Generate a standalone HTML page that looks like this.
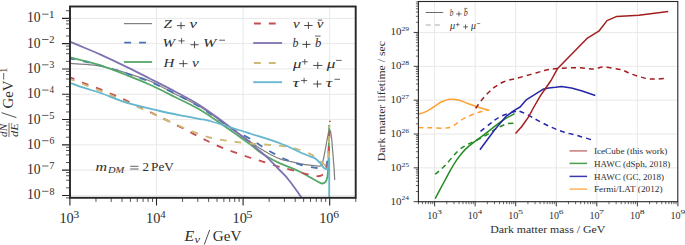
<!DOCTYPE html><html><head><meta charset="utf-8"><style>
html,body{margin:0;padding:0;background:#fff;width:685px;height:245px;overflow:hidden}
svg{display:block}
text{font-family:"Liberation Serif",serif;fill:#2e2e2e}
.i{font-style:italic}
</style></head><body>
<svg width="685" height="245" viewBox="0 0 685 245">
<path d="M156.50,6.50 V197.80 M243.10,6.50 V197.80 M329.70,6.50 V197.80 M70.00,18.35 H355.70 M70.00,43.65 H355.70 M70.00,68.95 H355.70 M70.00,94.25 H355.70 M70.00,119.55 H355.70 M70.00,144.85 H355.70 M70.00,170.15 H355.70 M70.00,195.45 H355.70" stroke="#e8e8e8" stroke-width="1" fill="none"/>
<defs><clipPath id="cl"><rect x="70.00" y="6.50" width="285.70" height="191.30"/></clipPath>
<clipPath id="cr"><rect x="418.4" y="1.5" width="259.4" height="200.2"/></clipPath></defs>
<g clip-path="url(#cl)">
<path d="M70.00,63.40 C72.50,63.55 80.00,63.87 85.00,64.30 C90.00,64.73 95.00,65.12 100.00,66.00 C105.00,66.88 110.33,68.35 115.00,69.60 C119.67,70.85 122.17,71.60 128.00,73.50 C133.83,75.40 142.17,77.58 150.00,81.00 C157.83,84.42 166.67,89.70 175.00,94.00 C183.33,98.30 191.67,101.80 200.00,106.80 C208.33,111.80 216.67,118.20 225.00,124.00 C233.33,129.80 244.13,137.52 250.00,141.60 C255.87,145.68 256.80,146.35 260.20,148.50 C263.60,150.65 267.00,152.73 270.40,154.50 C273.80,156.27 277.20,157.92 280.60,159.10 C284.00,160.28 287.57,160.85 290.80,161.60 C294.03,162.35 296.80,163.00 300.00,163.60 C303.20,164.20 306.70,164.77 310.00,165.20 C313.30,165.63 317.77,166.28 319.80,166.20 C321.83,166.12 321.80,164.95 322.20,164.70 L323.70,157.80 L325.20,150.00 L327.20,139.00 L328.80,131.00 L329.60,129.50 L330.50,131.00 L331.80,140.00 L333.00,155.00 L334.20,170.00 L334.70,180.00" stroke="#808080" stroke-width="1.25" fill="none" stroke-linejoin="round"/>
<path d="M70.00,58.60 C72.50,59.08 80.00,60.33 85.00,61.50 C90.00,62.67 93.33,63.72 100.00,65.60 C106.67,67.48 116.67,70.10 125.00,72.80 C133.33,75.50 141.67,78.35 150.00,81.80 C158.33,85.25 166.67,89.30 175.00,93.50 C183.33,97.70 194.00,103.52 200.00,107.00 C206.00,110.48 207.12,111.73 211.00,114.40 C214.88,117.07 219.02,120.15 223.30,123.00 C227.58,125.85 231.92,128.70 236.70,131.50 C241.48,134.30 247.92,137.38 252.00,139.80 C256.08,142.22 257.62,143.73 261.20,146.00 C264.78,148.27 269.25,151.08 273.50,153.40 C277.75,155.72 282.28,158.03 286.70,159.90 C291.12,161.77 295.63,163.35 300.00,164.60 C304.37,165.85 309.60,166.82 312.90,167.40 C316.20,167.98 318.12,168.08 319.80,168.10 C321.48,168.12 322.47,167.60 323.00,167.50 L326.30,166.50 L328.50,155.00 L329.20,127.00" stroke="#4c72b0" stroke-width="1.80" fill="none" stroke-linejoin="round" stroke-dasharray="6.9 8.0" stroke-dashoffset="2.00"/>
<path d="M70.00,57.40 C72.50,58.00 80.00,59.70 85.00,61.00 C90.00,62.30 93.33,62.95 100.00,65.20 C106.67,67.45 116.67,71.25 125.00,74.50 C133.33,77.75 141.67,80.95 150.00,84.70 C158.33,88.45 166.67,92.82 175.00,97.00 C183.33,101.18 191.67,104.88 200.00,109.80 C208.33,114.72 216.67,120.77 225.00,126.50 C233.33,132.23 244.13,139.90 250.00,144.20 C255.87,148.50 256.80,149.92 260.20,152.30 C263.60,154.68 267.00,156.62 270.40,158.50 C273.80,160.38 277.20,162.07 280.60,163.60 C284.00,165.13 287.57,166.35 290.80,167.70 C294.03,169.05 296.80,170.10 300.00,171.70 C303.20,173.30 307.17,175.70 310.00,177.30 C312.83,178.90 315.00,180.27 317.00,181.30 C319.00,182.33 320.55,183.45 322.00,183.50 C323.45,183.55 324.80,182.68 325.70,181.60 C326.60,180.52 327.12,177.77 327.40,177.00 L328.30,168.00 L328.80,150.00 L329.20,125.00" stroke="#55a868" stroke-width="1.80" fill="none" stroke-linejoin="round"/>
<path d="M70.00,77.30 C72.50,78.33 79.90,81.48 85.00,83.50 C90.10,85.52 95.82,87.50 100.60,89.40 C105.38,91.30 109.48,93.07 113.70,94.90 C117.92,96.73 119.85,97.55 125.90,100.40 C131.95,103.25 140.68,107.43 150.00,112.00 C159.32,116.57 172.47,123.08 181.80,127.80 C191.13,132.52 199.50,137.07 206.00,140.30 C212.50,143.53 215.88,145.15 220.80,147.20 C225.72,149.25 230.47,150.80 235.50,152.60 C240.53,154.40 246.37,156.47 251.00,158.00 C255.63,159.53 258.87,160.40 263.30,161.80 C267.73,163.20 272.85,165.02 277.60,166.40 C282.35,167.78 286.90,168.82 291.80,170.10 C296.70,171.38 302.68,173.08 307.00,174.10 C311.32,175.12 315.28,176.00 317.70,176.20 C320.12,176.40 320.42,175.75 321.50,175.30 C322.58,174.85 323.75,173.80 324.20,173.50 L326.50,170.00 L328.30,160.00 L329.30,140.00 L329.60,125.00" stroke="#c44e52" stroke-width="1.80" fill="none" stroke-linejoin="round" stroke-dasharray="6.9 8.0" stroke-dashoffset="2.00"/>
<path d="M70.00,41.70 C72.50,42.75 80.00,45.88 85.00,48.00 C90.00,50.12 92.83,51.13 100.00,54.40 C107.17,57.67 119.67,63.55 128.00,67.60 C136.33,71.65 142.17,74.72 150.00,78.70 C157.83,82.68 166.67,87.05 175.00,91.50 C183.33,95.95 192.17,100.48 200.00,105.40 C207.83,110.32 214.50,115.47 222.00,121.00 C229.50,126.53 240.33,135.07 245.00,138.60 C249.67,142.13 248.00,140.53 250.00,142.20 C252.00,143.87 254.00,145.95 257.00,148.60 C260.00,151.25 264.17,154.45 268.00,158.10 C271.83,161.75 277.00,167.42 280.00,170.50 C283.00,173.58 284.00,174.32 286.00,176.60 C288.00,178.88 290.00,181.55 292.00,184.20 C294.00,186.85 296.25,190.03 298.00,192.50 C299.75,194.97 301.75,197.92 302.50,199.00" stroke="#8172b2" stroke-width="1.80" fill="none" stroke-linejoin="round"/>
<path d="M70.00,79.00 C72.50,79.98 79.90,82.93 85.00,84.90 C90.10,86.87 95.82,88.88 100.60,90.80 C105.38,92.72 108.80,94.28 113.70,96.40 C118.60,98.52 123.95,100.82 130.00,103.50 C136.05,106.18 143.33,109.45 150.00,112.50 C156.67,115.55 163.33,118.80 170.00,121.80 C176.67,124.80 183.78,128.00 190.00,130.50 C196.22,133.00 201.55,135.17 207.30,136.80 C213.05,138.43 219.18,139.38 224.50,140.30 C229.82,141.22 233.93,141.68 239.20,142.30 C244.47,142.92 251.07,143.58 256.10,144.00 C261.13,144.42 264.97,144.43 269.40,144.80 C273.83,145.17 278.10,145.50 282.70,146.20 C287.30,146.90 292.45,147.72 297.00,149.00 C301.55,150.28 307.02,152.58 310.00,153.90 C312.98,155.22 313.57,155.97 314.90,156.90 C316.23,157.83 316.85,158.57 318.00,159.50 C319.15,160.43 320.80,161.67 321.80,162.50 C322.80,163.33 323.35,164.05 324.00,164.50 C324.65,164.95 325.42,165.08 325.70,165.20 L327.20,163.50 L328.10,158.00 L329.00,140.00 L329.40,126.00" stroke="#ccb974" stroke-width="1.80" fill="none" stroke-linejoin="round" stroke-dasharray="6.9 8.0" stroke-dashoffset="2.00"/>
<path d="M70.00,82.80 C72.50,83.70 79.90,86.50 85.00,88.20 C90.10,89.90 93.43,90.50 100.60,93.00 C107.77,95.50 118.10,100.20 128.00,103.20 C137.90,106.20 150.50,108.83 160.00,111.00 C169.50,113.17 178.33,114.85 185.00,116.20 C191.67,117.55 195.83,118.30 200.00,119.10 C204.17,119.90 201.67,118.60 210.00,121.00 C218.33,123.40 238.23,129.75 250.00,133.50 C261.77,137.25 272.27,140.38 280.60,143.50 C288.93,146.62 295.10,150.05 300.00,152.20 C304.90,154.35 307.52,155.38 310.00,156.40 C312.48,157.42 313.27,157.25 314.90,158.30 C316.53,159.35 318.50,161.30 319.80,162.70 C321.10,164.10 321.88,165.72 322.70,166.70 C323.52,167.68 324.03,168.20 324.70,168.60 C325.37,169.00 326.18,169.18 326.70,169.10 C327.22,169.02 327.62,168.27 327.80,168.10 L328.70,163.00 L329.20,157.80" stroke="#64b5cd" stroke-width="1.80" fill="none" stroke-linejoin="round"/>
<path d="M329.2,157.8 L329.2,199" stroke="#64b5cd" stroke-width="1.80" fill="none"/>
<path d="M329.0,121.4 L330.8,121.4" stroke="#c44e52" stroke-width="1.3" fill="none"/>
</g>
<rect x="70.00" y="6.50" width="285.70" height="191.30" fill="none" stroke="#262626" stroke-width="1.9"/>
<path d="M69.90,197.80 V205.40 M156.50,197.80 V205.40 M243.10,197.80 V205.40 M329.70,197.80 V205.40 M70.00,18.35 H62.00 M70.00,43.65 H62.00 M70.00,68.95 H62.00 M70.00,94.25 H62.00 M70.00,119.55 H62.00 M70.00,144.85 H62.00 M70.00,170.15 H62.00 M70.00,195.45 H62.00" stroke="#262626" stroke-width="1.1" fill="none"/>
<path d="M95.97,197.80 V201.90 M111.22,197.80 V201.90 M122.04,197.80 V201.90 M130.43,197.80 V201.90 M137.29,197.80 V201.90 M143.09,197.80 V201.90 M148.11,197.80 V201.90 M152.54,197.80 V201.90 M182.57,197.80 V201.90 M197.82,197.80 V201.90 M208.64,197.80 V201.90 M217.03,197.80 V201.90 M223.89,197.80 V201.90 M229.69,197.80 V201.90 M234.71,197.80 V201.90 M239.14,197.80 V201.90 M269.17,197.80 V201.90 M284.42,197.80 V201.90 M295.24,197.80 V201.90 M303.63,197.80 V201.90 M310.49,197.80 V201.90 M316.29,197.80 V201.90 M321.31,197.80 V201.90 M325.74,197.80 V201.90 M355.77,197.80 V201.90 M70.00,197.90 H66.00 M70.00,187.83 H66.00 M70.00,180.22 H66.00 M70.00,175.76 H66.00 M70.00,172.60 H66.00 M70.00,162.53 H66.00 M70.00,154.92 H66.00 M70.00,150.46 H66.00 M70.00,147.30 H66.00 M70.00,137.23 H66.00 M70.00,129.62 H66.00 M70.00,125.16 H66.00 M70.00,122.00 H66.00 M70.00,111.93 H66.00 M70.00,104.32 H66.00 M70.00,99.86 H66.00 M70.00,96.70 H66.00 M70.00,86.63 H66.00 M70.00,79.02 H66.00 M70.00,74.56 H66.00 M70.00,71.40 H66.00 M70.00,61.33 H66.00 M70.00,53.72 H66.00 M70.00,49.26 H66.00 M70.00,46.10 H66.00 M70.00,36.03 H66.00 M70.00,28.42 H66.00 M70.00,23.96 H66.00 M70.00,20.80 H66.00 M70.00,10.73 H66.00" stroke="#262626" stroke-width="0.8" fill="none"/>
<text transform="translate(26.94,22.35) scale(0.9510,1)" font-size="14.30">10</text>
<path d="M42.10,14.20 L48.50,14.20" stroke="#2e2e2e" stroke-width="0.75"/>
<text transform="translate(48.79,17.50) scale(1.2586,1)" font-size="9.40">1</text>
<text transform="translate(26.94,47.65) scale(0.9510,1)" font-size="14.30">10</text>
<path d="M42.10,39.50 L48.50,39.50" stroke="#2e2e2e" stroke-width="0.75"/>
<text transform="translate(49.33,42.80) scale(1.1170,1)" font-size="9.40">2</text>
<text transform="translate(26.94,72.95) scale(0.9510,1)" font-size="14.30">10</text>
<path d="M42.10,64.80 L48.50,64.80" stroke="#2e2e2e" stroke-width="0.75"/>
<text transform="translate(49.34,68.10) scale(1.0766,1)" font-size="9.40">3</text>
<text transform="translate(26.94,98.25) scale(0.9510,1)" font-size="14.30">10</text>
<path d="M42.10,90.10 L48.50,90.10" stroke="#2e2e2e" stroke-width="0.75"/>
<text transform="translate(49.62,93.40) scale(0.9609,1)" font-size="9.40">4</text>
<text transform="translate(26.94,123.55) scale(0.9510,1)" font-size="14.30">10</text>
<path d="M42.10,115.40 L48.50,115.40" stroke="#2e2e2e" stroke-width="0.75"/>
<text transform="translate(49.17,118.70) scale(1.1170,1)" font-size="9.40">5</text>
<text transform="translate(26.94,148.85) scale(0.9510,1)" font-size="14.30">10</text>
<path d="M42.10,140.70 L48.50,140.70" stroke="#2e2e2e" stroke-width="0.75"/>
<text transform="translate(49.41,144.00) scale(1.0391,1)" font-size="9.40">6</text>
<text transform="translate(26.94,174.15) scale(0.9510,1)" font-size="14.30">10</text>
<path d="M42.10,166.00 L48.50,166.00" stroke="#2e2e2e" stroke-width="0.75"/>
<text transform="translate(49.13,169.30) scale(1.1032,1)" font-size="9.40">7</text>
<text transform="translate(26.94,199.45) scale(0.9510,1)" font-size="14.30">10</text>
<path d="M42.10,191.30 L48.50,191.30" stroke="#2e2e2e" stroke-width="0.75"/>
<text transform="translate(49.40,194.60) scale(1.0638,1)" font-size="9.40">8</text>
<text transform="translate(59.39,222.60) scale(0.9990,1)" font-size="14.30">10</text>
<text transform="translate(73.26,217.50) scale(1.2817,1)" font-size="9.40">3</text>
<text transform="translate(145.99,222.60) scale(0.9990,1)" font-size="14.30">10</text>
<text transform="translate(160.18,217.50) scale(1.1439,1)" font-size="9.40">4</text>
<text transform="translate(232.59,222.60) scale(0.9990,1)" font-size="14.30">10</text>
<text transform="translate(246.25,217.50) scale(1.3298,1)" font-size="9.40">5</text>
<text transform="translate(319.19,222.60) scale(0.9990,1)" font-size="14.30">10</text>
<text transform="translate(333.13,217.50) scale(1.2370,1)" font-size="9.40">6</text>
<text transform="translate(184.56,241.00) scale(1.1019,1)" font-size="14.40" class="i">E</text>
<text transform="translate(194.51,243.10) scale(1.1847,1)" font-size="10.60" class="i">ν</text>
<path d="M204.30,244.50 L209.70,229.90" stroke="#2e2e2e" stroke-width="0.85"/>
<text transform="translate(212.79,241.00) scale(1.0521,1)" font-size="14.40">GeV</text>
<text transform="translate(7.30,136.60) rotate(-90) translate(-0.33,0) scale(1.1603,1)" font-size="9.60" class="i">dN</text>
<path d="M9.00,122.90 L9.00,137.10" stroke="#2e2e2e" stroke-width="0.70"/>
<text transform="translate(18.20,136.60) rotate(-90) translate(-0.37,0) scale(1.2911,1)" font-size="9.60" class="i">dE</text>
<path d="M16.40,117.60 L1.60,112.70" stroke="#2e2e2e" stroke-width="0.85"/>
<text transform="translate(13.20,108.00) rotate(-90) translate(-0.60,0) scale(1.0332,1)" font-size="14.40">GeV</text>
<path d="M3.70,79.60 L3.70,73.00" stroke="#2e2e2e" stroke-width="0.75"/>
<text transform="translate(6.80,72.00) rotate(-90) translate(-0.86,0) scale(1.0788,1)" font-size="9.40">1</text>
<text transform="translate(95.44,170.60) scale(1.3307,1)" font-size="12.00" class="i">m</text>
<text transform="translate(107.90,173.00) scale(1.3287,1)" font-size="7.90" class="i">DM</text>
<path d="M130.20,166.30 L138.50,166.30" stroke="#2e2e2e" stroke-width="0.75"/>
<path d="M130.20,169.00 L138.50,169.00" stroke="#2e2e2e" stroke-width="0.75"/>
<text transform="translate(142.51,170.60) scale(1.0833,1)" font-size="12.00">2</text>
<text transform="translate(151.10,170.50) scale(1.1062,1)" font-size="12.00">PeV</text>
<path d="M123.90,23.60 H152.10" stroke="#808080" stroke-width="1.25" fill="none"/>
<path d="M124.20,42.60 H152.60" stroke="#4c72b0" stroke-width="1.80" fill="none" stroke-dasharray="6.9 8.0"/>
<path d="M123.90,62.00 H152.10" stroke="#55a868" stroke-width="1.80" fill="none"/>
<path d="M253.90,23.50 H282.30" stroke="#c44e52" stroke-width="1.80" fill="none" stroke-dasharray="6.9 8.0"/>
<path d="M253.20,43.00 H282.10" stroke="#8172b2" stroke-width="1.80" fill="none"/>
<path d="M253.90,63.00 H282.30" stroke="#ccb974" stroke-width="1.80" fill="none" stroke-dasharray="6.9 8.0"/>
<path d="M253.20,82.20 H282.10" stroke="#64b5cd" stroke-width="1.80" fill="none"/>
<text transform="translate(163.55,27.90) scale(1.1429,1)" font-size="13.40" class="i">Z</text>
<path d="M176.90,25.65 H185.10 M181.00,22.15 V29.15" stroke="#2e2e2e" stroke-width="0.85" fill="none"/>
<text transform="translate(189.55,27.90) scale(1.2669,1)" font-size="13.40" class="i">ν</text>
<text transform="translate(162.42,47.30) scale(1.1216,1)" font-size="13.40" class="i">W</text>
<path d="M178.40,40.90 H184.70 M181.55,38.10 V43.70" stroke="#2e2e2e" stroke-width="0.75" fill="none"/>
<path d="M190.50,44.75 H198.60 M194.55,41.25 V48.25" stroke="#2e2e2e" stroke-width="0.85" fill="none"/>
<text transform="translate(202.96,47.30) scale(1.1923,1)" font-size="13.40" class="i">W</text>
<path d="M219.20,40.20 L225.00,40.20" stroke="#2e2e2e" stroke-width="0.75"/>
<text transform="translate(163.55,66.50) scale(1.1170,1)" font-size="13.40" class="i">H</text>
<path d="M179.10,63.65 H187.50 M183.30,60.15 V67.15" stroke="#2e2e2e" stroke-width="0.85" fill="none"/>
<text transform="translate(192.07,66.50) scale(1.1454,1)" font-size="13.40" class="i">ν</text>
<text transform="translate(292.97,27.90) scale(1.1281,1)" font-size="13.40" class="i">ν</text>
<path d="M304.20,25.50 H312.60 M308.40,22.00 V29.00" stroke="#2e2e2e" stroke-width="0.85" fill="none"/>
<text transform="translate(316.67,27.90) scale(1.1281,1)" font-size="13.40" class="i">ν</text>
<path d="M317.80,20.10 L322.20,20.10" stroke="#2e2e2e" stroke-width="0.75"/>
<text transform="translate(292.58,47.30) scale(0.8921,1)" font-size="13.40" class="i">b</text>
<path d="M302.40,44.45 H310.50 M306.45,40.95 V47.95" stroke="#2e2e2e" stroke-width="0.85" fill="none"/>
<text transform="translate(314.96,47.30) scale(0.9436,1)" font-size="13.40" class="i">b</text>
<path d="M315.00,36.10 L320.60,36.10" stroke="#2e2e2e" stroke-width="0.75"/>
<text transform="translate(293.00,67.60) scale(1.2544,1)" font-size="13.40" class="i">μ</text>
<path d="M301.80,61.75 H307.80 M304.80,58.95 V64.55" stroke="#2e2e2e" stroke-width="0.75" fill="none"/>
<path d="M313.20,65.45 H322.40 M317.80,61.95 V68.95" stroke="#2e2e2e" stroke-width="0.85" fill="none"/>
<text transform="translate(326.80,67.60) scale(1.2861,1)" font-size="13.40" class="i">μ</text>
<path d="M336.00,60.40 L341.70,60.40" stroke="#2e2e2e" stroke-width="0.75"/>
<text transform="translate(292.62,87.00) scale(1.4320,1)" font-size="13.40" class="i">τ</text>
<path d="M301.00,80.55 H307.20 M304.10,77.75 V83.35" stroke="#2e2e2e" stroke-width="0.75" fill="none"/>
<path d="M313.20,84.00 H321.60 M317.40,80.50 V87.50" stroke="#2e2e2e" stroke-width="0.85" fill="none"/>
<text transform="translate(325.74,87.00) scale(1.3514,1)" font-size="13.40" class="i">τ</text>
<path d="M334.50,79.30 L340.00,79.30" stroke="#2e2e2e" stroke-width="0.75"/>
<path d="M434.60,1.50 V201.70 M475.15,1.50 V201.70 M515.70,1.50 V201.70 M556.25,1.50 V201.70 M596.80,1.50 V201.70 M637.35,1.50 V201.70 M418.40,167.85 H677.80 M418.40,134.00 H677.80 M418.40,100.15 H677.80 M418.40,66.30 H677.80 M418.40,32.45 H677.80" stroke="#e8e8e8" stroke-width="1" fill="none"/>
<g clip-path="url(#cr)">
<path d="M418.40,113.90 C419.37,113.65 421.67,113.55 424.20,112.40 C426.73,111.25 430.75,108.73 433.60,107.00 C436.45,105.27 438.60,103.28 441.30,102.00 C444.00,100.72 446.95,99.63 449.80,99.30 C452.65,98.97 455.53,99.35 458.40,100.00 C461.27,100.65 463.93,102.08 467.00,103.20 C470.07,104.32 473.07,105.47 476.80,106.70 C480.53,107.93 487.30,109.95 489.40,110.60" stroke="#ffa030" stroke-width="1.50" fill="none" stroke-linejoin="round"/>
<path d="M418.40,127.50 C420.33,127.55 425.37,127.72 430.00,127.80 C434.63,127.88 442.28,128.38 446.20,128.00 C450.12,127.62 450.45,127.13 453.50,125.50 C456.55,123.87 460.62,120.28 464.50,118.20 C468.38,116.12 472.82,114.43 476.80,113.00 C480.78,111.57 486.47,110.17 488.40,109.60" stroke="#ffa030" stroke-width="1.50" fill="none" stroke-linejoin="round" stroke-dasharray="5 4"/>
<path d="M435.20,198.60 C436.72,195.75 441.80,186.17 444.30,181.50 C446.80,176.83 448.18,174.12 450.20,170.60 C452.22,167.08 454.35,163.43 456.40,160.40 C458.45,157.37 460.57,154.65 462.50,152.40 C464.43,150.15 465.58,149.00 468.00,146.90 C470.42,144.80 474.03,142.05 477.00,139.80 C479.97,137.55 482.70,135.77 485.80,133.40 C488.90,131.03 492.33,128.05 495.60,125.60 C498.87,123.15 502.23,120.70 505.40,118.70 C508.57,116.70 513.07,114.45 514.60,113.60" stroke="#228b22" stroke-width="1.50" fill="none" stroke-linejoin="round"/>
<path d="M435.20,174.30 C436.88,172.78 441.58,169.02 445.30,165.20 C449.02,161.38 454.18,154.65 457.50,151.40 C460.82,148.15 462.90,147.15 465.20,145.70 C467.50,144.25 467.90,144.40 471.30,142.70 C474.70,141.00 481.40,137.87 485.60,135.50 C489.80,133.13 492.98,130.43 496.50,128.50 C500.02,126.57 503.58,124.77 506.70,123.90 C509.82,123.03 513.78,123.40 515.20,123.30" stroke="#228b22" stroke-width="1.50" fill="none" stroke-linejoin="round" stroke-dasharray="5 4"/>
<path d="M479.90,149.80 L494.50,130.00 L505.70,116.70 L513.90,110.60 L520.10,107.00 L526.60,99.60 L534.60,94.60 L542.90,89.30 L548.60,88.00 L555.70,87.30 L561.40,86.40 L571.40,88.00 L581.40,90.80 L595.30,95.50" stroke="#2626a8" stroke-width="1.50" fill="none" stroke-linejoin="round"/>
<path d="M480.50,131.40 C482.12,130.12 487.53,125.80 490.20,123.70 C492.87,121.60 494.08,120.30 496.50,118.80 C498.92,117.30 501.63,115.90 504.70,114.70 C507.77,113.50 512.48,112.18 514.90,111.60 C517.32,111.02 516.95,110.60 519.20,111.20 C521.45,111.80 525.33,113.67 528.40,115.20 C531.47,116.73 534.00,118.50 537.60,120.40 C541.20,122.30 545.78,124.70 550.00,126.60 C554.22,128.50 558.38,130.32 562.90,131.80 C567.42,133.28 572.08,134.10 577.10,135.50 C582.12,136.90 590.35,139.42 593.00,140.20" stroke="#2626a8" stroke-width="1.50" fill="none" stroke-linejoin="round" stroke-dasharray="5 4"/>
<path d="M515.50,133.60 L522.00,126.30 L528.40,117.10 L533.90,107.00 L540.30,95.90 L545.30,88.70 L551.00,80.50 L557.40,68.80 L587.00,38.40 L598.80,31.20 L607.00,20.60 L616.80,16.40 L638.80,15.20 L668.20,11.50" stroke="#a31d1d" stroke-width="1.50" fill="none" stroke-linejoin="round"/>
<path d="M475.60,108.40 C476.50,107.15 478.90,103.50 481.00,100.90 C483.10,98.30 485.82,95.18 488.20,92.80 C490.58,90.42 492.58,88.48 495.30,86.60 C498.02,84.72 501.10,82.85 504.50,81.50 C507.90,80.15 511.28,79.68 515.70,78.50 C520.12,77.32 526.07,75.77 531.00,74.40 C535.93,73.03 540.87,71.28 545.30,70.30 C549.73,69.32 552.15,68.93 557.60,68.50 C563.05,68.07 572.05,67.63 578.00,67.70 C583.95,67.77 589.22,69.00 593.30,68.90 C597.38,68.80 599.13,67.20 602.50,67.10 C605.87,67.00 610.13,67.78 613.50,68.30 C616.87,68.82 619.95,69.33 622.70,70.20 C625.45,71.07 627.25,72.43 630.00,73.50 C632.75,74.57 636.13,75.72 639.20,76.60 C642.27,77.48 645.33,78.40 648.40,78.80 C651.47,79.20 654.38,79.12 657.60,79.00 C660.82,78.88 666.02,78.25 667.70,78.10" stroke="#a31d1d" stroke-width="1.50" fill="none" stroke-linejoin="round" stroke-dasharray="5 4"/>
</g>
<rect x="418.40" y="1.50" width="259.40" height="200.20" fill="none" stroke="#262626" stroke-width="1.1"/>
<path d="M434.60,201.70 V206.40 M475.15,201.70 V206.40 M515.70,201.70 V206.40 M556.25,201.70 V206.40 M596.80,201.70 V206.40 M637.35,201.70 V206.40 M677.90,201.70 V206.40 M418.40,201.70 H413.70 M418.40,167.85 H413.70 M418.40,134.00 H413.70 M418.40,100.15 H413.70 M418.40,66.30 H413.70 M418.40,32.45 H413.70" stroke="#262626" stroke-width="0.9" fill="none"/>
<path d="M418.46,201.70 V204.20 M422.39,201.70 V204.20 M425.60,201.70 V204.20 M428.32,201.70 V204.20 M430.67,201.70 V204.20 M432.74,201.70 V204.20 M446.81,201.70 V204.20 M453.95,201.70 V204.20 M459.01,201.70 V204.20 M462.94,201.70 V204.20 M466.15,201.70 V204.20 M468.87,201.70 V204.20 M471.22,201.70 V204.20 M473.29,201.70 V204.20 M487.36,201.70 V204.20 M494.50,201.70 V204.20 M499.56,201.70 V204.20 M503.49,201.70 V204.20 M506.70,201.70 V204.20 M509.42,201.70 V204.20 M511.77,201.70 V204.20 M513.84,201.70 V204.20 M527.91,201.70 V204.20 M535.05,201.70 V204.20 M540.11,201.70 V204.20 M544.04,201.70 V204.20 M547.25,201.70 V204.20 M549.97,201.70 V204.20 M552.32,201.70 V204.20 M554.39,201.70 V204.20 M568.46,201.70 V204.20 M575.60,201.70 V204.20 M580.66,201.70 V204.20 M584.59,201.70 V204.20 M587.80,201.70 V204.20 M590.52,201.70 V204.20 M592.87,201.70 V204.20 M594.94,201.70 V204.20 M609.01,201.70 V204.20 M616.15,201.70 V204.20 M621.21,201.70 V204.20 M625.14,201.70 V204.20 M628.35,201.70 V204.20 M631.07,201.70 V204.20 M633.42,201.70 V204.20 M635.49,201.70 V204.20 M649.56,201.70 V204.20 M656.70,201.70 V204.20 M661.76,201.70 V204.20 M665.69,201.70 V204.20 M668.90,201.70 V204.20 M671.62,201.70 V204.20 M673.97,201.70 V204.20 M676.04,201.70 V204.20 M418.40,191.51 H415.90 M418.40,185.55 H415.90 M418.40,181.32 H415.90 M418.40,178.04 H415.90 M418.40,175.36 H415.90 M418.40,173.09 H415.90 M418.40,171.13 H415.90 M418.40,169.40 H415.90 M418.40,157.66 H415.90 M418.40,151.70 H415.90 M418.40,147.47 H415.90 M418.40,144.19 H415.90 M418.40,141.51 H415.90 M418.40,139.24 H415.90 M418.40,137.28 H415.90 M418.40,135.55 H415.90 M418.40,123.81 H415.90 M418.40,117.85 H415.90 M418.40,113.62 H415.90 M418.40,110.34 H415.90 M418.40,107.66 H415.90 M418.40,105.39 H415.90 M418.40,103.43 H415.90 M418.40,101.70 H415.90 M418.40,89.96 H415.90 M418.40,84.00 H415.90 M418.40,79.77 H415.90 M418.40,76.49 H415.90 M418.40,73.81 H415.90 M418.40,71.54 H415.90 M418.40,69.58 H415.90 M418.40,67.85 H415.90 M418.40,56.11 H415.90 M418.40,50.15 H415.90 M418.40,45.92 H415.90 M418.40,42.64 H415.90 M418.40,39.96 H415.90 M418.40,37.69 H415.90 M418.40,35.73 H415.90 M418.40,34.00 H415.90 M418.40,22.26 H415.90 M418.40,16.30 H415.90 M418.40,12.07 H415.90 M418.40,8.79 H415.90 M418.40,6.11 H415.90 M418.40,3.84 H415.90 M418.40,1.88 H415.90" stroke="#262626" stroke-width="0.7" fill="none"/>
<text transform="translate(390.57,204.60) scale(1.0756,1)" font-size="10.20">10</text>
<text transform="translate(401.46,200.40) scale(1.0792,1)" font-size="6.90">24</text>
<text transform="translate(390.57,170.75) scale(1.0756,1)" font-size="10.20">10</text>
<text transform="translate(401.46,166.55) scale(1.1087,1)" font-size="6.90">25</text>
<text transform="translate(390.57,136.90) scale(1.0756,1)" font-size="10.20">10</text>
<text transform="translate(401.46,132.70) scale(1.0967,1)" font-size="6.90">26</text>
<text transform="translate(390.57,103.05) scale(1.0756,1)" font-size="10.20">10</text>
<text transform="translate(401.46,98.85) scale(1.0967,1)" font-size="6.90">27</text>
<text transform="translate(390.57,69.20) scale(1.0756,1)" font-size="10.20">10</text>
<text transform="translate(401.46,65.00) scale(1.1087,1)" font-size="6.90">28</text>
<text transform="translate(390.57,35.35) scale(1.0756,1)" font-size="10.20">10</text>
<text transform="translate(401.46,31.15) scale(1.1087,1)" font-size="6.90">29</text>
<text transform="translate(427.25,218.50) scale(0.9860,1)" font-size="10.20">10</text>
<text transform="translate(437.06,214.20) scale(1.4318,1)" font-size="6.90">3</text>
<text transform="translate(467.80,218.50) scale(0.9860,1)" font-size="10.20">10</text>
<text transform="translate(477.87,214.20) scale(1.2779,1)" font-size="6.90">4</text>
<text transform="translate(508.35,218.50) scale(0.9860,1)" font-size="10.20">10</text>
<text transform="translate(517.99,214.20) scale(1.4855,1)" font-size="6.90">5</text>
<text transform="translate(548.90,218.50) scale(0.9860,1)" font-size="10.20">10</text>
<text transform="translate(558.77,214.20) scale(1.3819,1)" font-size="6.90">6</text>
<text transform="translate(589.45,218.50) scale(0.9860,1)" font-size="10.20">10</text>
<text transform="translate(599.04,214.20) scale(1.4672,1)" font-size="6.90">7</text>
<text transform="translate(630.00,218.50) scale(0.9860,1)" font-size="10.20">10</text>
<text transform="translate(639.86,214.20) scale(1.4148,1)" font-size="6.90">8</text>
<text transform="translate(670.55,218.50) scale(0.9860,1)" font-size="10.20">10</text>
<text transform="translate(680.51,214.20) scale(1.3819,1)" font-size="6.90">9</text>
<text transform="translate(490.14,233.20) scale(1.0501,1)" font-size="11.30">Dark matter mass / GeV</text>
<text transform="translate(384.80,160.80) rotate(-90) translate(-0.35,0) scale(1.0417,1)" font-size="11.30">Dark matter lifetime / sec</text>
<path d="M425.7,12.5 H443.2" stroke="#6a6a6a" stroke-width="1.0"/>
<path d="M425.8,25.0 H440.2" stroke="#a8a8a8" stroke-width="1.0" stroke-dasharray="5 4"/>
<text transform="translate(449.74,15.80) scale(0.7743,1)" font-size="9.50" class="i">b</text>
<path d="M456.20,13.95 H461.60 M458.90,11.55 V16.35" stroke="#2e2e2e" stroke-width="0.70" fill="none"/>
<text transform="translate(463.72,15.80) scale(0.8469,1)" font-size="9.50" class="i">b</text>
<path d="M464.20,8.40 L467.40,8.40" stroke="#2e2e2e" stroke-width="0.60"/>
<text transform="translate(450.00,28.50) scale(1.0750,1)" font-size="9.50" class="i">μ</text>
<path d="M455.90,24.60 H459.50 M457.70,22.80 V26.40" stroke="#2e2e2e" stroke-width="0.60" fill="none"/>
<path d="M463.10,26.85 H468.00 M465.55,24.45 V29.25" stroke="#2e2e2e" stroke-width="0.70" fill="none"/>
<text transform="translate(470.90,28.50) scale(1.0302,1)" font-size="9.50" class="i">μ</text>
<path d="M476.90,23.50 L480.20,23.50" stroke="#2e2e2e" stroke-width="0.55"/>
<path d="M569.5,150.90 H587.1" stroke="#c97a7a" stroke-width="1.5"/>
<text transform="translate(593.88,154.20) scale(1.0019,1)" font-size="9.20">IceCube (this work)</text>
<path d="M569.5,163.40 H587.1" stroke="#4a9e4a" stroke-width="1.5"/>
<text transform="translate(593.93,166.70) scale(0.9838,1)" font-size="9.20">HAWC (dSph, 2018)</text>
<path d="M569.5,176.40 H587.1" stroke="#3a3ab0" stroke-width="1.5"/>
<text transform="translate(593.93,179.70) scale(0.9790,1)" font-size="9.20">HAWC (GC, 2018)</text>
<path d="M569.5,189.10 H587.1" stroke="#ffb35a" stroke-width="1.5"/>
<text transform="translate(593.92,192.40) scale(1.0105,1)" font-size="9.20">Fermi/LAT (2012)</text>
</svg></body></html>
